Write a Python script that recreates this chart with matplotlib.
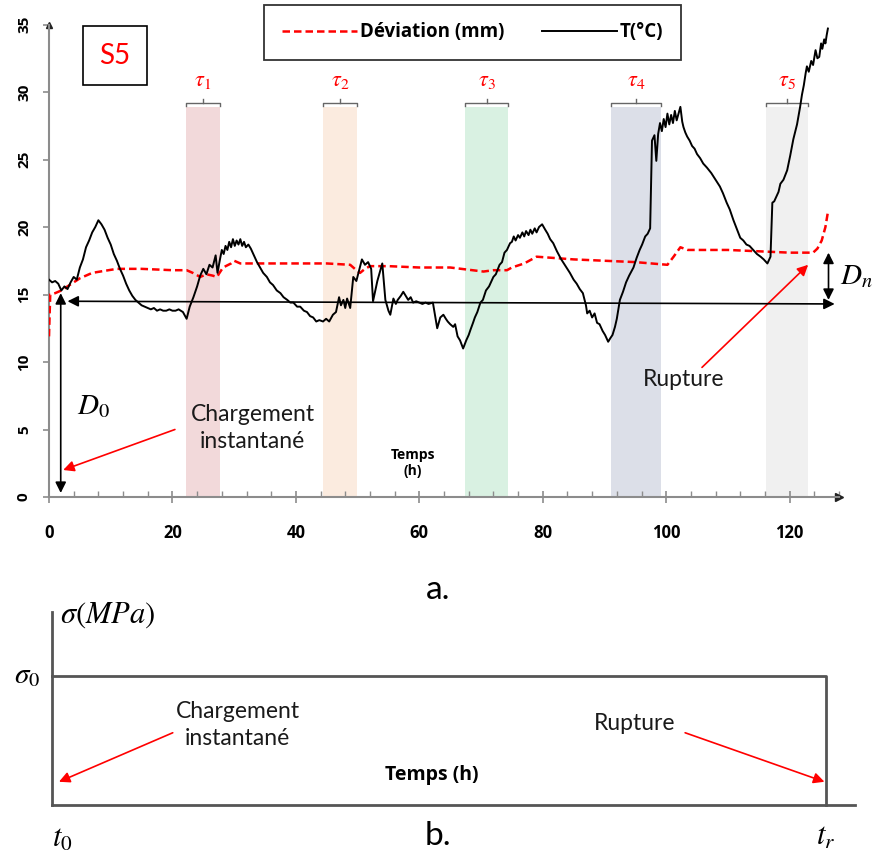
import matplotlib
matplotlib.use("Agg")
import matplotlib.pyplot as plt
from matplotlib.ticker import MultipleLocator

plt.rcParams['font.family'] = ['Lato', 'DejaVu Sans']
plt.rcParams['mathtext.fontset'] = 'stix'

# Temperature (black), (hour, degC) pairs
temp_points = [
    (0, 16.1), (0.5, 15.9), (1, 16.0), (1.5, 15.8), (2, 15.3), (2.5, 15.6), (3, 15.4),
    (3.5, 15.9), (4, 16.3), (4.5, 16.1), (5, 17.0), (5.5, 17.6), (6, 18.5), (6.5, 19.0),
    (7, 19.6), (7.5, 20.0), (8, 20.5), (8.5, 20.2), (9, 19.8), (9.5, 19.2), (10, 18.7),
    (10.5, 18.0), (11, 17.5), (11.5, 16.9), (12, 16.4), (12.5, 15.8), (13, 15.3),
    (13.5, 14.9), (14, 14.6), (14.5, 14.4), (15, 14.2), (15.5, 14.1), (16, 14.0),
    (16.5, 13.9), (17, 14.0), (17.5, 13.8), (18, 13.9), (18.5, 13.8), (19, 13.8),
    (19.5, 13.9), (20, 13.8), (20.5, 13.8), (21, 13.9), (21.7, 13.7), (22.3, 13.2),
    (22.8, 14.1), (23.4, 14.8), (24, 15.6), (24.5, 16.4), (25, 16.9), (25.5, 16.5),
    (26, 17.2), (26.5, 17.0), (27, 17.9), (27.3, 16.6), (27.7, 17.6), (28.0, 18.3),
    (28.3, 18.0), (28.6, 18.6), (28.9, 18.3), (29.2, 18.9), (29.5, 18.5), (29.8, 19.1),
    (30.1, 18.6), (30.4, 19.0), (30.7, 18.7), (31.0, 19.1), (31.3, 18.6), (31.6, 18.9),
    (31.9, 18.5), (32.3, 18.7), (32.7, 18.4), (33.1, 18.0), (33.7, 17.4), (34.2, 17.0),
    (34.7, 16.6), (35.3, 16.3), (35.8, 15.9), (36.3, 15.7), (36.9, 15.3), (37.5, 15.1),
    (38.0, 14.8), (38.6, 14.6), (39.1, 14.4), (39.6, 14.4), (40.2, 14.1), (40.7, 14.1),
    (41.3, 13.8), (41.8, 13.7), (42.3, 13.4), (42.8, 13.3), (43.3, 13.0), (43.8, 13.1),
    (44.4, 13.0), (44.9, 13.2), (45.4, 13.0), (46, 13.5), (46.5, 13.7), (47.0, 14.8),
    (47.3, 14.2), (47.7, 14.6), (48.0, 14.0), (48.3, 14.7), (48.8, 14.0), (49.3, 16.3),
    (49.8, 16.0), (50.3, 16.9), (50.7, 17.6), (51.2, 17.2), (51.7, 17.4), (52.2, 16.9),
    (52.5, 14.5), (53.2, 16.0), (54.0, 17.3), (54.5, 14.6), (55.0, 13.8), (55.3, 13.5),
    (55.8, 14.7), (56.2, 14.3), (56.5, 14.6), (57.0, 14.9), (57.4, 15.2), (57.8, 14.9),
    (58.2, 14.6), (58.6, 14.8), (59, 14.4), (59.5, 14.5), (60, 14.4), (60.5, 14.3),
    (61, 14.4), (61.5, 14.3), (62.2, 14.4), (62.9, 12.5), (63.4, 13.3), (63.9, 13.5),
    (64.3, 13.2), (64.6, 13.0), (65.0, 12.8), (65.5, 12.6), (65.8, 12.8), (66.2, 11.9),
    (66.6, 11.6), (67.1, 11.0), (67.6, 11.6), (68.0, 12.0), (68.3, 12.4), (68.7, 12.9),
    (69, 13.3), (69.4, 13.7), (69.9, 14.4), (70.3, 14.6), (70.8, 15.3), (71.3, 15.6),
    (72, 16.3), (72.4, 16.5), (73, 17.2), (73.4, 17.4), (73.8, 18.1), (74.2, 18.3),
    (74.7, 18.8), (75.0, 18.9), (75.3, 19.3), (75.6, 19.0), (76.0, 19.4), (76.3, 19.2),
    (76.7, 19.6), (77.0, 19.3), (77.3, 19.7), (77.7, 19.4), (78.0, 19.8), (78.3, 19.5),
    (78.7, 19.9), (79.0, 19.6), (79.4, 20.0), (79.9, 20.2), (80.4, 19.8), (80.8, 19.5),
    (81.2, 19.1), (81.7, 18.8), (82.3, 18.2), (83, 17.6), (83.7, 17.1), (84.4, 16.6),
    (85.0, 16.1), (85.5, 15.8), (86.0, 15.4), (86.5, 15.1), (87.0, 14.2), (87.2, 13.6),
    (87.6, 13.8), (88, 13.3), (88.4, 13.6), (88.8, 12.9), (89.2, 12.8), (89.7, 12.3),
    (90.1, 12.0), (90.6, 11.5), (91.0, 11.8), (91.3, 12.0), (91.7, 12.6), (92.0, 13.2),
    (92.5, 14.6), (93.0, 15.2), (93.5, 15.9), (94.0, 16.4), (94.7, 17.0), (95.2, 17.7),
    (95.7, 18.3), (96.1, 18.7), (96.6, 19.3), (97.0, 19.5), (97.4, 19.9), (97.7, 26.4),
    (98.1, 26.8), (98.4, 24.9), (98.7, 26.9), (99.0, 27.7), (99.3, 27.1), (99.6, 28.0),
    (99.9, 27.4), (100.2, 28.4), (100.5, 27.6), (100.8, 28.3), (101.1, 27.7),
    (101.4, 28.6), (101.7, 27.9), (102.0, 28.4), (102.3, 28.9), (102.6, 27.8),
    (102.8, 27.4), (103.1, 27.0), (103.4, 26.7), (103.8, 26.4), (104.2, 26.0),
    (104.6, 25.8), (105.0, 25.4), (105.5, 25.1), (106, 24.7), (106.6, 24.4),
    (107.3, 24.0), (108.0, 23.5), (108.7, 23.0), (109.2, 22.5), (109.8, 21.8),
    (110.3, 21.3), (110.9, 20.5), (111.4, 19.9), (112.0, 19.2), (112.5, 19.0),
    (113.0, 18.7), (113.5, 18.6), (114.1, 18.3), (114.7, 18.0), (115.3, 17.8),
    (115.8, 17.6), (116.4, 17.3), (116.9, 17.8), (117.2, 21.8), (117.5, 21.9),
    (117.8, 22.2), (118.2, 22.6), (118.5, 23.2), (119.0, 23.5), (119.6, 24.2),
    (120.1, 25.3), (120.6, 26.5), (121.2, 27.6), (121.7, 28.9), (122.0, 29.8),
    (122.3, 30.5), (122.6, 31.4), (122.8, 31.9), (123.1, 31.5), (123.5, 32.3),
    (123.8, 32.0), (124.2, 33.1), (124.5, 32.5), (124.8, 32.6), (125.1, 33.6),
    (125.3, 33.2), (125.6, 33.9), (125.8, 33.6), (126.0, 34.2), (126.2, 34.7),
]
temp_h = [p[0] for p in temp_points]
temp_c = [p[1] for p in temp_points]

# Deviation (red dashed)
dev_h = [0, 0.1, 0.2, 1, 2, 3, 4, 5, 6, 7, 8.3, 11, 15, 20, 22.3, 23.3, 24.5, 25.5, 26.5,
         27.2, 28.2, 29.5, 30, 31, 35, 40, 45, 48.8, 49.8, 50.4, 51.2, 52, 55, 60, 65, 70.4,
         72, 74.2, 75, 77, 79, 85, 90, 95, 100.2, 101.2, 102.3, 103.5, 110, 115, 120, 123.8,
         124.5, 125.2, 125.8, 126.2]
dev_mm = [11.9, 13.5, 15.0, 15.1, 15.3, 15.6, 15.9, 16.2, 16.4, 16.6, 16.7, 16.9, 16.9, 16.8,
          16.8, 16.6, 16.3, 16.5, 16.4, 16.3, 17.0, 17.3, 17.5, 17.3, 17.3, 17.3, 17.3, 17.2,
          16.8, 16.6, 16.9, 17.1, 17.1, 17.0, 17.0, 16.7, 16.8, 16.8, 17.0, 17.3, 17.8, 17.6,
          17.5, 17.4, 17.2, 17.8, 18.5, 18.3, 18.3, 18.2, 18.1, 18.1, 18.4, 19.0, 20.0, 21.1]

# Periods tau_i (start, end) in hours and their band colours
tau_names = [r'$\tau_1$', r'$\tau_2$', r'$\tau_3$', r'$\tau_4$', r'$\tau_5$']
tau_start = [22.2, 44.4, 67.4, 91.1, 116.2]
tau_end = [27.7, 49.9, 74.4, 99.2, 123.0]
tau_colors = ['#f2d9da', '#fbebdf', '#d9f1e2', '#dcdfe8', '#f0f0f0']

x_ticks = [0, 20, 40, 60, 80, 100, 120]
y_ticks = [0, 5, 10, 15, 20, 25, 30, 35]

# panel b: constant stress between t0 and tr
stress_t = [0, 1, 1]
stress_s = [1, 1, 0]

wide_bold = {'family': ['Open Sans', 'DejaVu Sans'], 'weight': 'bold'}

fig = plt.figure(figsize=(8.77, 8.52), dpi=100)

# ---- panel a ----
ax = fig.add_axes([49 / 877, 355 / 852, 790 / 877, 472.5 / 852])
ax.set_xlim(0, 128)
ax.set_ylim(0, 35)

for s, e, c, name in zip(tau_start, tau_end, tau_colors, tau_names):
    ax.fill_between([s, e], 0, 28.9, color=c, lw=0, zorder=0)
    m = (s + e) / 2
    ax.plot([s, s, e, e], [28.95, 29.15, 29.15, 28.95], color='#666666', lw=1, zorder=1)
    ax.plot([m, m], [29.15, 29.45], color='#666666', lw=1, zorder=1)
    ax.text(m, 30.8, name, color='red', fontsize=16, ha='center', va='center')

ax.plot(dev_h, dev_mm, color='red', ls=(0, (3, 1.6)), lw=1.8, label='Déviation (mm)', zorder=3)
ax.plot(temp_h, temp_c, color='black', lw=1.4, label='T(°C)', zorder=4)

# D0 / Dn arrows and the horizontal reference
arr = dict(arrowstyle='<|-|>', color='black', lw=1.2, mutation_scale=16, shrinkA=0, shrinkB=0)
ax.annotate('', xy=(3.0, 14.5), xytext=(127.3, 14.3), arrowprops=arr, zorder=5)
ax.annotate('', xy=(1.9, 15.1), xytext=(1.9, 0.3), arrowprops=arr, zorder=5)
ax.annotate('', xy=(126.3, 18.1), xytext=(126.3, 14.6), arrowprops=arr, zorder=5)
ax.text(4.6, 6.7, r'$D_0$', fontsize=21, ha='left', va='center')
ax.text(128.2, 16.3, r'$D_n$', fontsize=21, ha='left', va='center', clip_on=False)

red = dict(arrowstyle='-|>', color='red', lw=1.2, mutation_scale=16, shrinkA=0, shrinkB=0)
ax.annotate('', xy=(2.3, 2.0), xytext=(20.4, 5.0), arrowprops=red)
ax.text(33, 5.1, 'Chargement\ninstantané', fontsize=16.5, color='#1a1a1a',
        ha='center', va='center', linespacing=1.35)
ax.annotate('', xy=(123.0, 17.2), xytext=(105.8, 9.6), arrowprops=red)
ax.text(102.8, 8.7, 'Rupture', fontsize=16.5, color='#1a1a1a', ha='center', va='center')
ax.text(59, 2.5, 'Temps\n(h)', fontsize=10, ha='center', va='center', fontdict=wide_bold)

ax.text(10.7, 32.7, 'S5', fontsize=20, color='red', ha='center', va='center',
        bbox=dict(boxstyle='square,pad=0.6', fc='white', ec='black', lw=1.2))

for sp in ['top', 'right']:
    ax.spines[sp].set_visible(False)
for sp in ['left', 'bottom']:
    ax.spines[sp].set_color('#8c8c8c')
    ax.spines[sp].set_linewidth(1.5)
ax.plot(1, 0, '>', color='#222222', ms=6, transform=ax.transAxes, clip_on=False)
ax.plot(0, 1, '^', color='#222222', ms=5, transform=ax.transAxes, clip_on=False)

ax.set_xticks(x_ticks)
ax.set_yticks(y_ticks)
ax.xaxis.set_minor_locator(MultipleLocator(4))
ax.tick_params(axis='x', which='major', direction='inout', length=9, color='#8c8c8c',
               width=1.2, pad=15)
ax.tick_params(axis='x', which='minor', direction='in', length=4, color='#8c8c8c', width=1.0)
ax.tick_params(axis='y', which='major', direction='out', length=4, color='#8c8c8c',
               width=1.2, pad=9)
for lab in ax.get_xticklabels():
    lab.set_fontfamily(wide_bold['family'])
    lab.set_fontweight('bold')
    lab.set_fontsize(12)
for lab in ax.get_yticklabels():
    lab.set_fontfamily(wide_bold['family'])
    lab.set_fontweight('bold')
    lab.set_fontsize(11)
    lab.set_rotation(90)
    lab.set_va('center')

leg = ax.legend(ncol=2, loc='center', bbox_to_anchor=(472.5 / 877, 1 - 32.5 / 852),
                bbox_transform=fig.transFigure, frameon=True, fancybox=False,
                handlelength=4.0, handletextpad=0.15, columnspacing=2.0,
                prop={'family': wide_bold['family'], 'weight': 'bold', 'size': 13.5},
                borderpad=0.95, borderaxespad=0)
leg.get_frame().set_edgecolor('black')
leg.get_frame().set_linewidth(1.3)

fig.text(438 / 877, 1 - 590 / 852, 'a.', fontsize=24, ha='center', va='center')

# ---- panel b ----
bx = fig.add_axes([52 / 877, 47 / 852, 803 / 877, 193 / 852])
bx.set_xlim(0, 803 / 774)
bx.set_ylim(0, 193 / 129)
bx.plot(stress_t, stress_s, color='#555555', lw=2, clip_on=False)
for sp in ['top', 'right']:
    bx.spines[sp].set_visible(False)
for sp in ['left', 'bottom']:
    bx.spines[sp].set_color('#555555')
    bx.spines[sp].set_linewidth(2)
bx.set_xticks([])
bx.set_yticks([])

bx.text(0.01, 1.47, r'$\sigma(MPa)$', fontsize=22, ha='left', va='center')
bx.text(-0.015, 1.0, r'$\sigma_0$', fontsize=21, ha='right', va='center')
bx.text(0.0, -0.26, r'$t_0$', fontsize=22, ha='left', va='center', clip_on=False)
bx.text(1.0, -0.25, r'$t_r$', fontsize=22, ha='center', va='center', clip_on=False)
bx.text(0.24, 0.62, 'Chargement\ninstantané', fontsize=16.5, color='#1a1a1a',
        ha='center', va='center', linespacing=1.35)
bx.annotate('', xy=(0.009, 0.18), xytext=(0.156, 0.56), arrowprops=red)
bx.text(0.753, 0.63, 'Rupture', fontsize=16.5, color='#1a1a1a', ha='center', va='center')
bx.annotate('', xy=(0.998, 0.18), xytext=(0.818, 0.56), arrowprops=red)
bx.text(0.491, 0.23, 'Temps (h)', fontsize=14, ha='center', va='center', fontdict=wide_bold)

fig.text(438 / 877, 1 - 836 / 852, 'b.', fontsize=24, ha='center', va='center')

fig.savefig('out.png', dpi=100)
